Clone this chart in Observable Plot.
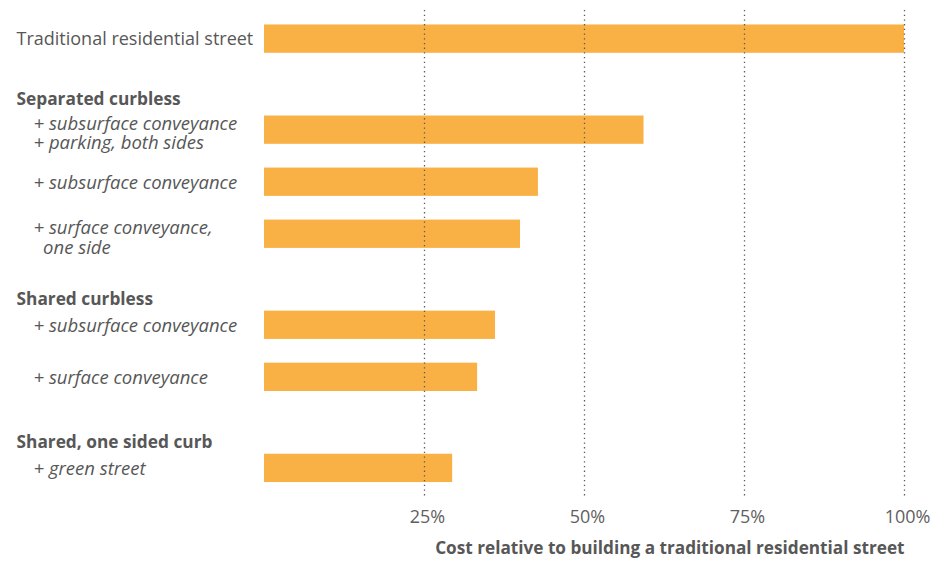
<!DOCTYPE html>
<html>
<head>
<meta charset="utf-8">
<script src="https://cdn.jsdelivr.net/npm/d3@7"></script>
<script src="https://cdn.jsdelivr.net/npm/@observablehq/plot@0.6"></script>
<style>
  html, body { margin: 0; padding: 0; background: #fff; }
  #chart svg { display: block; }
</style>
</head>
<body>
<div id="chart"></div>
<script>
// ---- data ----
const rowLabels = [
  "Traditional residential street",
  "+ subsurface conveyance\n+ parking, both sides",
  "+ subsurface conveyance",
  "+ surface conveyance,\n\u00a0\u00a0one side",
  "+ subsurface conveyance",
  "+ surface conveyance",
  "+ green street"
];
const rowGroups = [
  null,
  "Separated curbless",
  "Separated curbless",
  "Separated curbless",
  "Shared curbless",
  "Shared curbless",
  "Shared, one sided curb"
];
const costs = [100, 59.3, 42.8, 40.0, 36.1, 33.3, 29.4]; // % of traditional street cost
const tickValues = [25, 50, 75, 100];
const axisTitle = "Cost relative to building a traditional residential street";

// ---- layout helpers (row index along a linear y scale) ----
const headerGap = 0.75;
const rows = [];
let pos = 0;
rowLabels.forEach((label, i) => {
  const group = rowGroups[i];
  if (i > 0) pos += 1 + (group !== rowGroups[i - 1] && group ? headerGap : 0);
  rows.push({label, group, cost: costs[i], pos, lines: label.split("\n").length});
});
const headers = rows
  .filter((d, i) => d.group && d.group !== (i > 0 ? rows[i - 1].group : null))
  .map(d => ({title: d.group, pos: d.pos - 0.5 - 0.1 * (d.lines - 1)}));

const barHalf = 0.272;
const textColor = "#575757";

const chart = Plot.plot({
  width: 938,
  height: 563,
  marginLeft: 264,
  marginRight: 34,
  marginTop: 10,
  marginBottom: 66.5,
  style: {fontFamily: "'Open Sans', sans-serif", fontSize: "16px", color: textColor, background: "#fff"},
  x: {domain: [0, 100]},
  y: {domain: [-0.55, 8.8], reverse: true, axis: null},
  marks: [
    Plot.rectX(rows, {x1: 0, x2: "cost", y1: d => d.pos - barHalf, y2: d => d.pos + barHalf, fill: "#F9B145"}),
    Plot.ruleX(tickValues, {stroke: "#5a5a5a", strokeWidth: 1.3, strokeDasharray: "1.3,3.4"}),
    Plot.axisX({ticks: tickValues, tickSize: 0, tickPadding: 13, dx: 3, tickFormat: d => d + "%", label: null, fill: "#5f5f5f", fontSize: 18}),
    Plot.text([axisTitle], {frameAnchor: "bottom-right", text: d => d, dy: 56.5, fontWeight: "bold", fill: textColor, fontSize: 17.2}),
    Plot.text(rows.filter(d => !d.group), {frameAnchor: "left", y: "pos", text: "label", textAnchor: "start", dx: -248, fill: textColor, fontSize: 18}),
    Plot.text(rows.filter(d => d.group && d.lines === 1), {frameAnchor: "left", y: "pos", text: "label", textAnchor: "start", dx: -231, dy: 0.5, fill: textColor, fontSize: 18.5, fontStyle: "italic"}),
    Plot.text(rows.filter(d => d.group && d.lines > 1), {frameAnchor: "left", y: "pos", text: "label", textAnchor: "start", dx: -231, dy: 3.5, fill: textColor, fontSize: 18.5, fontStyle: "italic", lineHeight: 1.04}),
    Plot.text(headers, {frameAnchor: "left", y: "pos", text: "title", textAnchor: "start", dx: -248, fill: textColor, fontSize: 17.3, fontWeight: "bold"})
  ]
});
document.getElementById("chart").append(chart);
</script>
</body>
</html>
